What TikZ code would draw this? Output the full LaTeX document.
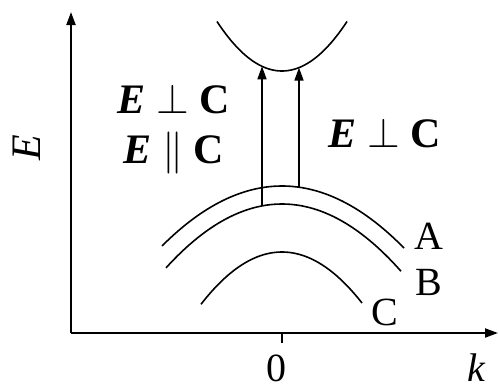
\documentclass[tikz,border=0pt]{standalone}
\usepackage{fix-cm}
\usepackage{fontspec}
\setmainfont{Liberation Serif}
\usetikzlibrary{arrows.meta,positioning}
\tikzset{
  axisline/.style={line width=2pt,-{Triangle[length=13pt,width=9pt]}},
  bandline/.style={line width=1.6pt},
  transition/.style={line width=1.6pt,-{Triangle[length=13pt,width=9pt]}},
  bandlabel/.style={font=\fontsize{40}{48}\selectfont,inner sep=0pt},
  polarlabel/.style={font=\fontsize{42}{50}\selectfont,align=center,inner sep=0pt},
}

\begin{document}
\begin{tikzpicture}[x=1pt,y=-1pt]
    \useasboundingbox (0,0) rectangle (499,389);
    % axes
    \coordinate (origin) at (71,333);
    \coordinate (ytip) at (71,12);
    \coordinate (xtip) at (498,333);
    \coordinate (tick) at (282,343);
    \draw[axisline] (origin)--(ytip);
    \draw[axisline] (origin)--(xtip);
    \draw[line width=1.6pt] (282,333)--(tick);
    \node[bandlabel,anchor=base] (zero) at (276,381) {0};
    \node[bandlabel,anchor=base] (kk) at (476,381) {\itshape k};
    \node[bandlabel,font=\fontsize{42}{50}\selectfont,rotate=90] (EE) at (27,148) {\itshape E};
    % bands
    \draw[bandline] plot[domain=217:347,samples=60] (\x,{71-48*((\x-282)/64)^2});
    \draw[bandline] plot[domain=162:404,samples=60] (\x,{186+62*((\x-282)/122)^2});
    \draw[bandline] plot[domain=166:401,samples=60] (\x,{204+65*((\x-282)/117)^2});
    \draw[bandline] plot[domain=201:362,samples=60] (\x,{252+51*((\x-282)/80)^2});
    \node[bandlabel] (A) at (429,236) {A};
    \node[bandlabel] (B) at (429,282) {B};
    \node[bandlabel] (C) at (385,312) {C};
    % transitions
    \coordinate (fromB) at (262,205.9);
    \coordinate (toCB1) at (262,66.3);
    \coordinate (fromA) at (299,187.2);
    \coordinate (toCB2) at (299,67.6);
    \draw[transition] (fromB)--(toCB1);
    \draw[transition] (fromA)--(toCB2);
    \node[polarlabel] (left) at (174,129) {\textbf{\textit{E}} $\perp$ \textbf{C}\\\textbf{\textit{E}} $\parallel$ \textbf{C}};
    \node[polarlabel] (right) at (385,133) {\textbf{\textit{E}} $\perp$ \textbf{C}};
  \end{tikzpicture}
\end{document}
